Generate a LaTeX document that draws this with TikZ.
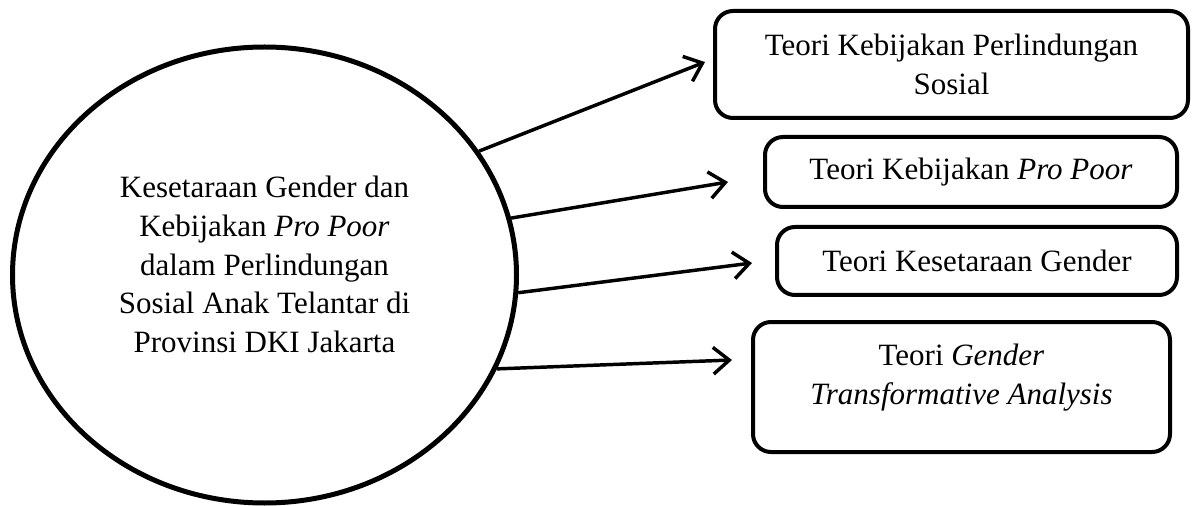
\documentclass[tikz,border=0pt]{standalone}
\usepackage{fontspec}
\setmainfont{Liberation Serif}
\usetikzlibrary{arrows.meta,shapes.geometric}

\tikzset{every picture/.style={line width=0.75pt}}
\tikzset{
  teori/.style={draw, line width=3pt, rounded corners=13.5pt, align=center, inner sep=0pt, font=\fontsize{23.25}{29}\selectfont},
  panah/.style={line width=2.6pt, -{Straight Barb[length=12pt,width=20pt,line width=2.6pt]}}
}

\begin{document}
\begin{tikzpicture}[x=0.75pt,y=0.75pt,yscale=-1,xscale=1]
\useasboundingbox (0,0) rectangle (1197,506);

%Shape: Ellipse [id:pusat]
\node (pusat) [draw, ellipse, line width=3.75pt, minimum width=378pt, minimum height=342pt, inner sep=0pt, align=center, font=\fontsize{23.25}{29}\selectfont] at (264.5,275) {Kesetaraan Gender dan\\ Kebijakan \textit{Pro Poor}\\ dalam Perlindungan\\ Sosial Anak Telantar di\\ Provinsi DKI Jakarta\rule[-16pt]{0pt}{0pt}};

%Shape: Rounded Rect [id:teori1]
\node (t1) [teori, minimum width=354.75pt, minimum height=80.25pt] at (951.5,64.5) {Teori Kebijakan Perlindungan\\ Sosial};
%Shape: Rounded Rect [id:teori2]
\node (t2) [teori, minimum width=309pt, minimum height=52.5pt] at (971,172) {Teori Kebijakan \textit{Pro Poor}};
%Shape: Rounded Rect [id:teori3]
\node (t3) [teori, minimum width=300pt, minimum height=51pt] at (977,261) {Teori Kesetaraan Gender};
%Shape: Rounded Rect [id:teori4]
\node (t4) [teori, minimum width=312.75pt, minimum height=97.5pt] at (961.5,387) {Teori \textit{Gender}\\ \textit{Transformative Analysis}\rule[-19pt]{0pt}{0pt}};

% Arrow ends
\coordinate (u1) at (705,62);
\coordinate (u2) at (728,182);
\coordinate (u3) at (752,263);
\coordinate (u4) at (732,360);

%Shape: Arrows
\draw [panah] (pusat.30) -- (u1);
\draw [panah] (pusat.13) -- (u2);
\draw [panah] (pusat.-4) -- (u3);
\draw [panah] (pusat.-22) -- (u4);
\end{tikzpicture}
\end{document}
